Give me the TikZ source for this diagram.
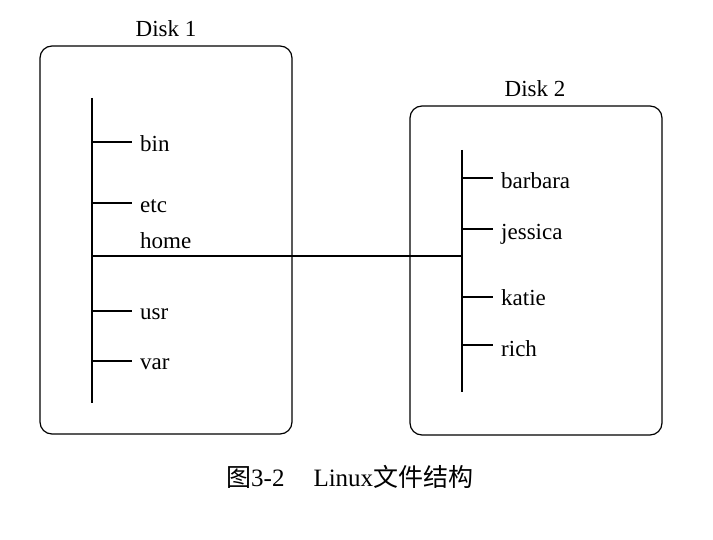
\documentclass[tikz,border=0pt]{standalone}
\usepackage{fontspec}
\setmainfont{Liberation Serif}
\newfontfamily\cjk{Noto Sans CJK SC}
\begin{document}
\begin{tikzpicture}[x=1pt,y=-1pt,
  disk/.style={draw, line width=1.2pt, rounded corners=12pt, inner sep=0pt},
  lbl/.style={anchor=base west, inner sep=0pt, font=\fontsize{23}{23}\selectfont},
  ttl/.style={anchor=base, inner sep=0pt, font=\fontsize{23}{23}\selectfont},
  ln/.style={line width=1.2pt}]
\useasboundingbox (0,0) rectangle (713,540);
% boxes
\node[disk, minimum width=252pt, minimum height=388pt] (d1) at (166,240) {};
\node[disk, minimum width=252pt, minimum height=329pt] (d2) at (536,270.5) {};
\node[ttl] (t1) at (166,37) {Disk 1};
\node[ttl] (t2) at (535,97) {Disk 2};
% disk 1 tree
\coordinate (a0) at (92,98);
\coordinate (a1) at (92,403);
\draw[ln] (a0) -- (a1);
\node[lbl] (bin) at (140,152) {bin};
\node[lbl] (etc) at (140,213) {etc};
\node[lbl] (home) at (140,249) {home};
\node[lbl] (usr) at (140,320) {usr};
\node[lbl] (var) at (140,370) {var};
\foreach \n/\y in {bin/142,etc/203,usr/311,var/361}{
  \coordinate (s\n) at (92,\y);
  \coordinate (e\n) at (132,\y);
  \draw[ln] (s\n) -- (e\n);
}
% disk 2 tree
\coordinate (b0) at (462,150);
\coordinate (b1) at (462,392);
\draw[ln] (b0) -- (b1);
\node[lbl] (barbara) at (501,189) {barbara};
\node[lbl] (jessica) at (501,240) {jessica};
\node[lbl] (katie) at (501,306) {katie};
\node[lbl] (rich) at (501,356) {rich};
\foreach \n/\y in {barbara/178,jessica/229,katie/297,rich/345}{
  \coordinate (s\n) at (462,\y);
  \coordinate (e\n) at (493,\y);
  \draw[ln] (s\n) -- (e\n);
}
% link
\coordinate (h0) at (92,256);
\coordinate (h1) at (462,256);
\draw[ln] (h0) -- (h1);
% caption
\node[anchor=base west, inner sep=0pt, font=\fontsize{25}{25}\selectfont] (cap) at (226,486)
  {{\cjk 图}3-2\hspace{29pt}Linux{\cjk 文件结构}};
\end{tikzpicture}
\end{document}
